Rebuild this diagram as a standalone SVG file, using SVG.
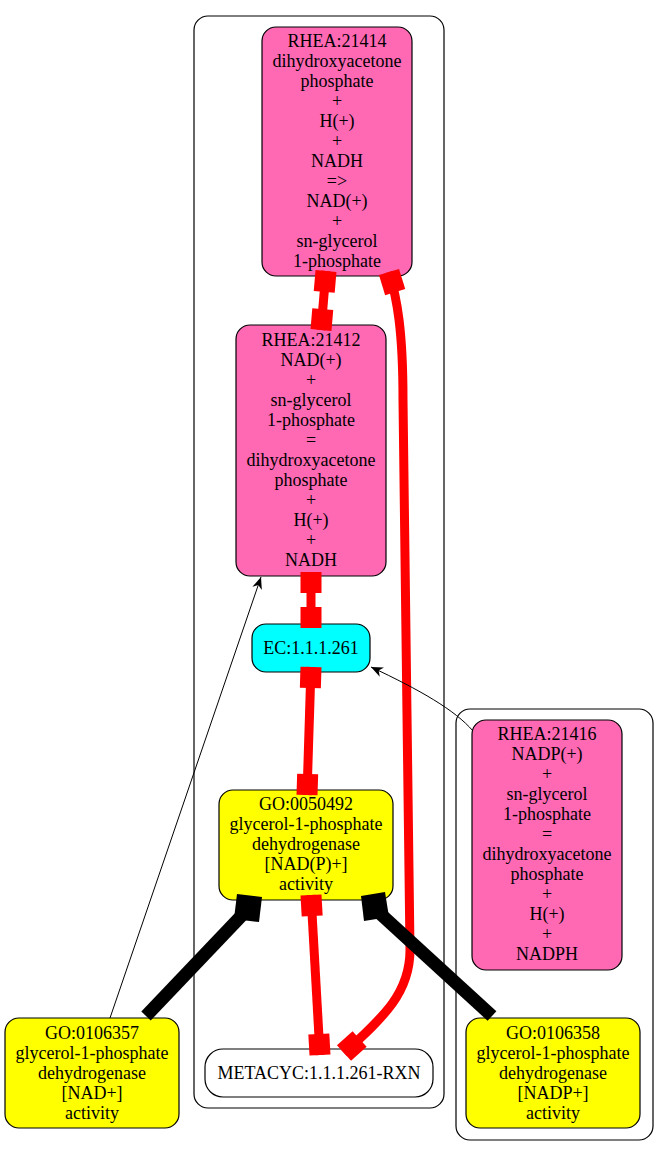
<svg xmlns="http://www.w3.org/2000/svg" width="669" height="1156" viewBox="0 0 669 1156">
<style>
.cl{fill:none;stroke:#000;stroke-width:1.2}
.nd{stroke:#000;stroke-width:1.2}
.pink{fill:#ff69b4}
.yel{fill:#ffff00}
.cyan{fill:#00ffff}
.wht{fill:#ffffff}
text{font-family:"Liberation Serif","Times New Roman",serif;font-size:18px;text-anchor:middle;fill:#000}
.red{fill:none;stroke:#ff0000;stroke-width:9}
.blk{fill:none;stroke:#000;stroke-width:13}
.thin{fill:none;stroke:#000;stroke-width:1}
</style>
<defs>
<marker id="tee" markerUnits="userSpaceOnUse" orient="auto-start-reverse" markerWidth="1" markerHeight="1" overflow="visible">
<rect x="-21" y="-10.5" width="21" height="21" fill="#ff0000"/>
</marker>
<marker id="vee" markerUnits="userSpaceOnUse" orient="auto" markerWidth="1" markerHeight="1" overflow="visible">
<path d="M0,0 L-12,-5 L-8.5,0 L-12,5 Z" fill="#000"/>
</marker>
</defs>
<rect width="669" height="1156" fill="#fff"/>
<g id="clusters">
<rect class="cl" x="194" y="16" width="250" height="1092" rx="14"/>
<rect class="cl" x="456" y="709" width="197" height="431" rx="14"/>
</g>
<g id="n_rhea21414">
<rect class="nd pink" x="262" y="27" width="150" height="249" rx="14"/>
<text x="337" y="47">RHEA:21414</text>
<text x="337" y="67">dihydroxyacetone</text>
<text x="337" y="87">phosphate</text>
<text x="337" y="107">+</text>
<text x="337" y="127">H(+)</text>
<text x="337" y="147">+</text>
<text x="337" y="167">NADH</text>
<text x="337" y="187">=&gt;</text>
<text x="337" y="207">NAD(+)</text>
<text x="337" y="227">+</text>
<text x="337" y="247">sn-glycerol</text>
<text x="337" y="267">1-phosphate</text>
</g>
<g id="n_rhea21412">
<rect class="nd pink" x="236" y="325" width="150" height="251" rx="14"/>
<text x="311" y="346">RHEA:21412</text>
<text x="311" y="366">NAD(+)</text>
<text x="311" y="386">+</text>
<text x="311" y="406">sn-glycerol</text>
<text x="311" y="426">1-phosphate</text>
<text x="311" y="446">=</text>
<text x="311" y="466">dihydroxyacetone</text>
<text x="311" y="486">phosphate</text>
<text x="311" y="506">+</text>
<text x="311" y="526">H(+)</text>
<text x="311" y="546">+</text>
<text x="311" y="566">NADH</text>
</g>
<g id="n_ec">
<rect class="nd cyan" x="252" y="624" width="118" height="48" rx="14"/>
<text x="311" y="654">EC:1.1.1.261</text>
</g>
<g id="n_go0050492">
<rect class="nd yel" x="219" y="790" width="174" height="110" rx="14"/>
<text x="306" y="810">GO:0050492</text>
<text x="306" y="830">glycerol-1-phosphate</text>
<text x="306" y="850">dehydrogenase</text>
<text x="306" y="870">[NAD(P)+]</text>
<text x="306" y="890">activity</text>
</g>
<g id="n_metacyc">
<rect class="nd wht" x="205" y="1049" width="228" height="48" rx="18"/>
<text x="319" y="1079">METACYC:1.1.1.261-RXN</text>
</g>
<g id="n_go0106357">
<rect class="nd yel" x="5" y="1018" width="174" height="110" rx="14"/>
<text x="92" y="1039">GO:0106357</text>
<text x="92" y="1059">glycerol-1-phosphate</text>
<text x="92" y="1079">dehydrogenase</text>
<text x="92" y="1099">[NAD+]</text>
<text x="92" y="1119">activity</text>
</g>
<g id="n_rhea21416">
<rect class="nd pink" x="472" y="720" width="150" height="250" rx="14"/>
<text x="547" y="740">RHEA:21416</text>
<text x="547" y="760">NADP(+)</text>
<text x="547" y="780">+</text>
<text x="547" y="800">sn-glycerol</text>
<text x="547" y="820">1-phosphate</text>
<text x="547" y="840">=</text>
<text x="547" y="860">dihydroxyacetone</text>
<text x="547" y="880">phosphate</text>
<text x="547" y="900">+</text>
<text x="547" y="920">H(+)</text>
<text x="547" y="940">+</text>
<text x="547" y="960">NADPH</text>
</g>
<g id="n_go0106358">
<rect class="nd yel" x="466" y="1018" width="174" height="110" rx="14"/>
<text x="553" y="1039">GO:0106358</text>
<text x="553" y="1059">glycerol-1-phosphate</text>
<text x="553" y="1079">dehydrogenase</text>
<text x="553" y="1099">[NADP+]</text>
<text x="553" y="1119">activity</text>
</g>
<g id="connectors">
<path class="red" d="M326,271 L321,330" marker-start="url(#tee)" marker-end="url(#tee)"/>
<path class="red" d="M311,572 L311,628" marker-start="url(#tee)" marker-end="url(#tee)"/>
<path class="red" d="M311,667 L307,795" marker-start="url(#tee)" marker-end="url(#tee)"/>
<path class="red" d="M311,895 L320,1055" marker-start="url(#tee)" marker-end="url(#tee)"/>
<path class="red" d="M389,272 C397,298 403,330 403,400 L410,950 C410,992 385,1016 344,1053" marker-start="url(#tee)" marker-end="url(#tee)"/>
<path class="blk" d="M146,1016 L246,911"/>
<polygon points="237,894 262,897 259,922 234,919" fill="#000"/>
<path class="blk" d="M492,1016 L374,908"/>
<polygon points="361,896 385,892 389,917 364,921" fill="#000"/>
<path class="thin" d="M110,1018 L261,577" marker-end="url(#vee)"/>
<path class="thin" d="M473,731 C455,710 420,690 371,667" marker-end="url(#vee)"/>
</g>
</svg>
